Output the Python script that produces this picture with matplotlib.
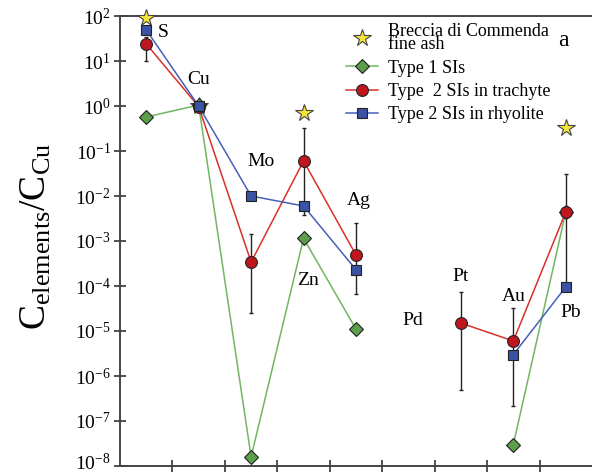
import matplotlib
matplotlib.use("Agg")
import matplotlib.pyplot as plt
import matplotlib.transforms as mtransforms
import numpy as np

plt.rcParams["font.family"] = ["Liberation Serif", "DejaVu Serif"]
plt.rcParams["mathtext.fontset"] = "custom"
plt.rcParams["mathtext.rm"] = "Liberation Serif"
plt.rcParams["mathtext.it"] = "Liberation Serif:italic"
plt.rcParams["axes.unicode_minus"] = False

elements = ["S", "Cu", "Mo", "Zn", "Ag", "Pd", "Pt", "Au", "Pb"]
nan = np.nan

# Breccia di Commenda fine ash
ash = [90, 1.0, nan, 0.7, nan, nan, nan, nan, 0.32]
# Type 1 SIs
type1 = [0.57, 1.05, 1.6e-8, 1.15e-3, 1.1e-5, nan, nan, 3e-8, 4.4e-3]
# Type 2 SIs in trachyte (with error bar ranges)
trachyte = [24, 0.97, 3.4e-4, 0.06, 4.9e-4, nan, 1.5e-5, 6e-6, 4.4e-3]
trachyte_lo = [10, 0.75, 2.5e-5, 3.8e-3, 6.6e-5, nan, 4.9e-7, 2.2e-7, 1e-4]
trachyte_hi = [35, 1.3, 1.45e-3, 0.32, 2.5e-3, nan, 7.4e-5, 3.2e-5, 0.031]
# Type 2 SIs in rhyolite
rhyolite = [49, 1.0, 0.01, 6e-3, 2.3e-4, nan, nan, 3e-6, 9.5e-5]

# label placement (x offset, log10 y) for element names
label_dx = [0.32, 0.0, 0.19, 0.08, 0.05, 0.08, 0.0, 0.0, 0.1]
label_logy = [1.64, 0.58, -1.24, -3.87, -2.09, -4.76, -3.78, -4.24, -4.58]

x = np.arange(len(elements))

fig = plt.figure(figsize=(5.92, 4.74), dpi=100)
ax = fig.add_axes([120 / 592, 8 / 474, 472 / 592, 450 / 474])

green_line, green_fill = "#72b562", "#5c9e4c"
red_line, red_fill = "#d8302a", "#c0161e"
blue_line, blue_fill = "#4660b8", "#3a53a4"

# each series drawn in two runs, broken around the missing elements
t1 = np.array(type1, dtype=float)
ax.plot(x[:5], t1[:5], color=green_line, lw=1.1, zorder=2)
ax.plot(x[7:], t1[7:], color=green_line, lw=1.1, zorder=2)

tr = np.array(trachyte, dtype=float)
ax.plot(x[:5], tr[:5], color=red_line, lw=1.1, zorder=2)
ax.plot(x[6:], tr[6:], color=red_line, lw=1.1, zorder=2)

rh = np.array(rhyolite, dtype=float)
ax.plot(x[:5], rh[:5], color=blue_line, lw=1.1, zorder=2)
ax.plot(x[7:], rh[7:], color=blue_line, lw=1.1, zorder=2)

lo = tr - np.array(trachyte_lo)
hi = np.array(trachyte_hi) - tr
ax.errorbar(x, tr, yerr=[lo, hi], fmt="none", ecolor="#222222",
            elinewidth=1.0, capsize=1.6, capthick=1.0, zorder=3)

ax.plot(x, ash, ls="none", marker="*", ms=13, mfc="#f4e53a",
        mec="#444444", mew=0.8, zorder=4, clip_on=False)
ax.plot(x, t1, ls="none", marker="D", ms=7.5, mfc=green_fill,
        mec="#222222", mew=0.8, zorder=5, clip_on=False)
ax.plot(x, tr, ls="none", marker="o", ms=8.5, mfc=red_fill,
        mec="#222222", mew=0.8, zorder=6, clip_on=False)
ax.plot(x, rh, ls="none", marker="s", ms=7.5, mfc=blue_fill,
        mec="#222222", mew=0.8, zorder=7, clip_on=False)

for i, name in enumerate(elements):
    ax.text(x[i] + label_dx[i], 10 ** label_logy[i], name, fontsize=14,
            ha="center", va="center", zorder=8)

# legend
handles = [
    plt.Line2D([], [], ls="none", marker="*", ms=13, mfc="#f4e53a",
               mec="#444444", mew=0.8),
    plt.Line2D([], [], color=green_line, lw=1.1, marker="D", ms=7.5,
               mfc=green_fill, mec="#222222", mew=0.8),
    plt.Line2D([], [], color=red_line, lw=1.1, marker="o", ms=8.5,
               mfc=red_fill, mec="#222222", mew=0.8),
    plt.Line2D([], [], color=blue_line, lw=1.1, marker="s", ms=7.5,
               mfc=blue_fill, mec="#222222", mew=0.8),
]
labels = ["Breccia di Commenda\nfine ash", "Type 1 SIs",
          "Type  2 SIs in trachyte", "Type 2 SIs in rhyolite"]
leg = ax.legend(handles, labels, loc="upper left",
                bbox_to_anchor=(0.452, 1.012), frameon=False, fontsize=13,
                handlelength=1.8, handletextpad=0.5, labelspacing=0.35,
                borderpad=0.2)
for t in leg.get_texts():
    t.set_linespacing(0.7)

ax.text(0.94, 0.945, "a", transform=ax.transAxes, fontsize=17,
        ha="center", va="center")

ax.set_yscale("log")
ax.set_ylim(1e-8, 1e2)
ax.set_xlim(-0.5, 8.5)
ax.set_yticks([10.0 ** k for k in range(-8, 3)])
ax.yaxis.set_minor_locator(matplotlib.ticker.NullLocator())
ax.set_xticks(np.arange(0.5, 8, 1.0))
ax.set_xticklabels([])
ax.tick_params(axis="both", direction="inout", length=9, width=1.2,
               color="#333333", labelsize=14)
ax.tick_params(axis="y", pad=2)
for side in ["left", "bottom", "top"]:
    ax.spines[side].set_color("#444444")
    ax.spines[side].set_linewidth(1.4)
ax.spines["right"].set_visible(False)

# nudge the lowest tick label up a little so it stays inside the figure
fig.canvas.draw()
bottom_lbl = ax.get_yticklabels()[0]
bottom_lbl.set_transform(bottom_lbl.get_transform() +
                         mtransforms.ScaledTranslation(0, 3 / 72, fig.dpi_scale_trans))

ax.set_ylabel(r"$\mathrm{C_{elements}/C_{Cu}}$", fontsize=27)
ax.yaxis.set_label_coords(-0.14, 0.51)

fig.savefig("out.png", dpi=100)
